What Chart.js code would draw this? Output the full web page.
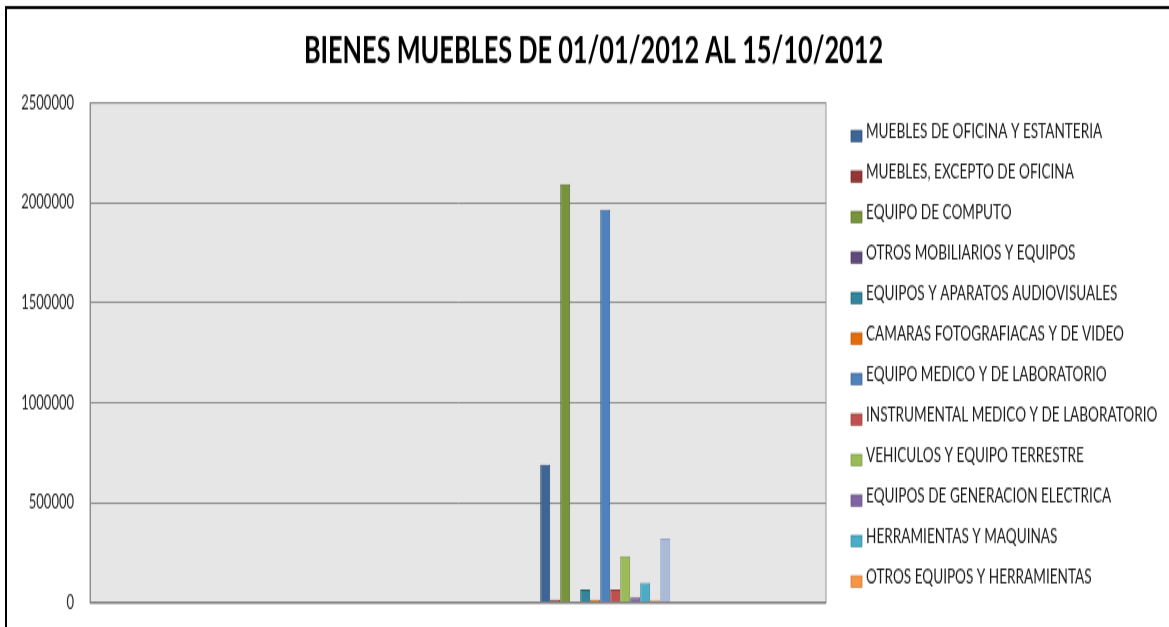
<!DOCTYPE html>
<html>
<head>
<meta charset="utf-8">
<title>Bienes muebles 2012</title>
<script src="https://cdn.jsdelivr.net/npm/chart.js@4.4.1/dist/chart.umd.min.js"></script>
<style>
  html, body { margin: 0; padding: 0; background: #fff; overflow: hidden; }
  /* the original picture is stretched vertically, so draw at 2/3 height and scale up */
  #wrap {
    position: absolute; left: 0; top: 0;
    width: 1169px; height: 418px;
    transform: scale(1, 1.5); transform-origin: 0 0;
  }
  #bienesChart { display: block; }
</style>
</head>
<body>
<div id="wrap"><canvas id="bienesChart" width="1169" height="418"></canvas></div>
<script>
const chartTitle = 'BIENES MUEBLES DE 01/01/2012 AL 15/10/2012';

// five slots on the category axis, only the fourth one carries values
const periods = ['', '', '', '', ''];
const dataPeriod = 3;

const seriesNames = [
    'MUEBLES DE OFICINA Y ESTANTERIA',
    'MUEBLES, EXCEPTO DE OFICINA',
    'EQUIPO DE COMPUTO',
    'OTROS MOBILIARIOS Y EQUIPOS',
    'EQUIPOS Y APARATOS AUDIOVISUALES',
    'CAMARAS FOTOGRAFIACAS Y DE VIDEO',
    'EQUIPO MEDICO Y DE LABORATORIO',
    'INSTRUMENTAL MEDICO Y DE LABORATORIO',
    'VEHICULOS Y EQUIPO TERRESTRE',
    'EQUIPOS DE GENERACION ELECTRICA',
    'HERRAMIENTAS Y MAQUINAS',
    'OTROS EQUIPOS Y HERRAMIENTAS',
    '' // 13th series, its legend entry is cut off in the original
];

const seriesValues = [690000, 15000, 2095000, 5000, 66000, 15000, 1966000, 66000, 233000, 26000, 100000, 10000, 320000];

const yTicks = [0, 500000, 1000000, 1500000, 2000000, 2500000];

const seriesColors = ['#3D6596', '#953735', '#77933C', '#604A7B', '#31859C', '#E46C0A',
                      '#4F81BD', '#C0504D', '#9BBB59', '#8064A2', '#4BACC6', '#F79646', '#A9BAD8'];
const seriesBorders = ['#2B4A70', '#6E2826', '#5A6F2D', '#47375C', '#23616F', '#B05208',
                       '#3A6190', '#963C3A', '#7A9544', '#604B7A', '#3788A0', '#C57333', '#95A8C8'];

const SY = 1.5; // vertical stretch of the page

// frame, plot background, title and legend
const decorPlugin = {
    id: 'decor',
    beforeDraw(chart) {
        const {ctx, chartArea: a} = chart;
        ctx.save();
        ctx.fillStyle = '#E6E6E6';
        ctx.fillRect(a.left, a.top, a.right - a.left, a.bottom - a.top);
        ctx.strokeStyle = '#9A9A9A';
        ctx.lineWidth = 1;
        ctx.strokeRect(a.left, a.top, a.right - a.left, a.bottom - a.top);

        // black frame, top and left edges
        ctx.strokeStyle = '#000';
        ctx.beginPath();
        ctx.moveTo(1169, 5);
        ctx.lineTo(6, 5);
        ctx.lineTo(6, chart.height);
        ctx.lineWidth = 2;
        ctx.stroke();
        ctx.restore();
    },
    afterDatasetsDraw(chart) {
        // category axis line
        const {ctx, chartArea: a} = chart;
        ctx.save();
        ctx.strokeStyle = '#7F7F7F';
        ctx.lineWidth = 1.4;
        ctx.beginPath();
        ctx.moveTo(a.left, a.bottom);
        ctx.lineTo(a.right, a.bottom);
        ctx.stroke();
        ctx.restore();
    },
    afterDraw(chart) {
        const {ctx} = chart;
        ctx.save();
        ctx.fillStyle = '#000';
        ctx.font = "bold 25.3px Lato";
        ctx.textAlign = 'center';
        ctx.textBaseline = 'middle';
        ctx.fillText(chartTitle, 593.5, 34);

        ctx.font = "13.6px Lato";
        ctx.textAlign = 'left';
        chart.data.datasets.forEach((ds, i) => {
            if (!ds.label) return;
            const y = 134 / SY + i * 40.5 / SY;
            const bh = 11 / SY;
            const by = y + 2 / SY;
            ctx.fillStyle = ds.backgroundColor;
            ctx.fillRect(851, by - bh / 2, 11, bh);
            ctx.strokeStyle = ds.borderColor;
            ctx.lineWidth = 0.7;
            ctx.strokeRect(851, by - bh / 2, 11, bh);
            ctx.fillStyle = '#1A1A1A';
            ctx.fillText(ds.label, 866, y - 1.5);
        });
        ctx.restore();
    }
};

const datasets = seriesNames.map((name, s) => ({
    label: name,
    data: periods.map((p, i) => (i === dataPeriod ? seriesValues[s] : null)),
    backgroundColor: seriesColors[s],
    borderColor: seriesBorders[s],
    borderWidth: 1,
    categoryPercentage: 0.883,
    barPercentage: 1
}));

new Chart(document.getElementById('bienesChart'), {
    type: 'bar',
    data: { labels: periods, datasets: datasets },
    options: {
        responsive: false,
        animation: false,
        layout: { padding: { left: 0, right: 343, top: 68.7, bottom: 16.3 } },
        plugins: {
            legend: { display: false },
            title: { display: false },
            tooltip: { enabled: false }
        },
        scales: {
            x: {
                display: false
            },
            y: {
                min: 0,
                max: 2500000,
                afterBuildTicks: (scale) => { scale.ticks = yTicks.map(v => ({ value: v })); },
                ticks: {
                    font: { family: 'Lato', size: 13 },
                    color: '#262626',
                    padding: 16,
                    callback: (v) => String(v)
                },
                grid: { color: '#8C8C8C', lineWidth: 1, drawTicks: false },
                border: { display: true, color: '#8C8C8C', width: 1 },
                afterFit: (scale) => {
                    scale.width = 90;
                    scale.paddingTop = 0;
                    scale.paddingBottom = 0;
                }
            }
        }
    },
    plugins: [decorPlugin]
});
</script>
</body>
</html>
